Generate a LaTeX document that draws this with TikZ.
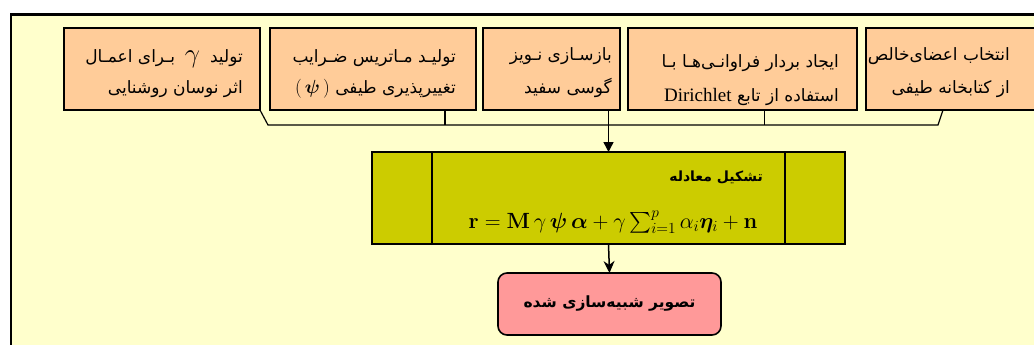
\RequirePackage{fix-cm}
\documentclass[tikz,border=0pt]{standalone}
\usepackage{amsmath,bm}
\usepackage[no-math]{fontspec}
\setmainfont{Liberation Serif}
\newfontfamily\fa[Script=Arabic]{DejaVu Sans}
\TeXXeTstate=1
\usetikzlibrary{arrows.meta}
\definecolor{bg}{RGB}{255,255,204}
\definecolor{peach}{RGB}{255,204,153}
\definecolor{olivebox}{RGB}{204,204,0}
\definecolor{pinkbox}{RGB}{255,153,153}
\newcommand\RL[1]{\beginR #1\endR}
\newcommand\LR[1]{\beginL #1\endL}
\begin{document}
\begin{tikzpicture}[x=1pt,y=-1pt,
  box/.style={draw=black,line width=1.5pt,fill=peach,anchor=north west,inner sep=0pt,outer sep=0pt},
  conn/.style={line width=1.2pt},
  arr/.style={line width=1.5pt,-{Triangle[length=10pt,width=10pt]}},
  arrb/.style={line width=1.5pt,-{Stealth[length=12pt,width=11pt]}},
  txt/.style={anchor=base east,inner sep=0pt,font=\fa\fontsize{17}{20}\selectfont},
]
\useasboundingbox (0,0) rectangle (1034,345);
\clip (0,0) rectangle (1034,345);
\fill[white] (0,0) rectangle (1034,345);
\draw[line width=2.6pt,fill=bg] (11,14.5) rectangle (1080,390);

% top boxes
\node[box,minimum width=196,minimum height=82] (b1) at (64,28) {};
\node[box,minimum width=206,minimum height=82] (b2) at (270,28) {};
\node[box,minimum width=137,minimum height=82] (b3) at (483,28) {};
\node[box,minimum width=229,minimum height=82] (b4) at (628,28) {};
\node[box,minimum width=200,minimum height=82] (b5) at (866,28) {};

% texts of top boxes
\node[txt] (t1a) at (243,63) {\RL{تولید \LR{{\fontsize{27}{29}\selectfont$\,\gamma\,$}} بـرای اعمـال}};
\node[txt] (t1b) at (243,94) {\RL{اثر نوسان روشنایی}};
\node[txt] (t2a) at (456,63) {\RL{تولیـد مـاتریس ضـرایب}};
\node[txt] (t2b) at (456,94) {\RL{تغییرپذیری طیفی \LR{{\fontsize{19}{21}\selectfont$(\,\bm{\psi}\,)$}}}};
\node[txt] (t3a) at (612,61) {\RL{بازسـازی نـویز}};
\node[txt] (t3b) at (612,93) {\RL{گوسی سفید}};
\node[txt] (t4a) at (839,67) {\RL{ایجاد بردار فراوانـی^^^^200cهـا بـا}};
\node[txt] (t4b) at (839,101) {\RL{استفاده از تابع \LR{{\rmfamily\fontsize{19}{21}\selectfont Dirichlet}}}};
\node[txt] (t5a) at (1010,61) {\RL{انتخاب اعضای^^^^200cخالص}};
\node[txt] (t5b) at (1010,93) {\RL{از کتابخانه طیفی}};

% middle box
\node[draw=black,line width=1.6pt,fill=olivebox,anchor=north west,minimum width=473,minimum height=92,inner sep=0pt,outer sep=0pt] (m) at (372,152) {};
\draw[line width=1.3pt] ([xshift=60]m.north west) -- ([xshift=60]m.south west);
\draw[line width=1.3pt] ([xshift=-60]m.north east) -- ([xshift=-60]m.south east);
\node[anchor=base east,inner sep=0pt,font=\fa\bfseries\fontsize{14}{16}\selectfont] (mt) at (763,181) {\RL{تشکیل معادله}};
\node[anchor=base,inner sep=0pt,font=\fontsize{22}{26}\selectfont] (eq) at (613,228)
  {$\mathbf{r}=\mathbf{M}\,\gamma\,\bm{\psi}\,\bm{\alpha}+\gamma\textstyle\sum_{i=1}^{p}\alpha_{i}\bm{\eta}_{i}+\mathbf{n}$};

% output box
\node[draw=black,line width=1.6pt,fill=pinkbox,rounded corners=9pt,anchor=north west,minimum width=223,minimum height=62,inner sep=0pt,outer sep=0pt,font=\fa\bfseries\fontsize{15.5}{18}\selectfont] (o) at (498,273) {\RL{تصویر شبیه^^^^200cسازی شده}};

% connectors
\coordinate (busL) at (268,125);
\coordinate (busR) at (938,125);
\draw[conn] (b1.south east) -- (busL) -- (busR) -- ([xshift=77]b5.south west);
\draw[conn] ([xshift=-31]b2.south east) -- ([xshift=-31]b2.south east |- busL);
\draw[conn] ([xshift=22]b4.south) -- ([xshift=22]b4.south |- busL);
\draw[arr] (b3.south -| m.north) -- (m.north);
\draw[arrb] (m.south) -- (o.north);
\end{tikzpicture}
\end{document}
